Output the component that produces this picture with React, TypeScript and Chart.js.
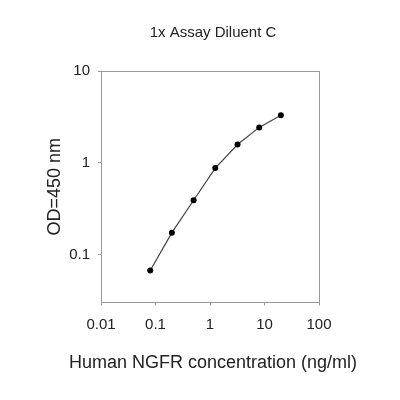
import React, { useEffect, useRef } from "react";
import { Chart, registerables } from "chart.js";

Chart.register(...registerables);

const concentrations = [0.08, 0.2, 0.5, 1.25, 3.2, 8, 20];
const odValues = [0.067, 0.173, 0.39, 0.875, 1.58, 2.43, 3.3];
const xTickValues = [0.01, 0.1, 1, 10, 100];
const yTickValues = [0.1, 1, 10];
const chartTitle = "1x Assay Diluent C";
const xTitle = "Human NGFR concentration (ng/ml)";
const yTitle = "OD=450 nm";

const FONT = "'Liberation Sans', Arial, sans-serif";
const BORDER = "#9a9a9a";
const TEXT = "#222222";

export default function App() {
  const ref = useRef<HTMLCanvasElement | null>(null);
  useEffect(() => {
    if (!ref.current) return;
    const chart = new Chart(ref.current, {
      type: "scatter",
      data: {
        datasets: [
          {
            data: concentrations.map((x, i) => ({ x, y: odValues[i] })),
            showLine: true,
            borderColor: "#444444",
            borderWidth: 1.2,
            backgroundColor: "#000000",
            pointBackgroundColor: "#000000",
            pointBorderColor: "#000000",
            pointRadius: 3,
            pointBorderWidth: 0,
          },
        ],
      },
      options: {
        animation: false,
        responsive: false,
        layout: { padding: { left: 26, right: 0, top: 0, bottom: 0 } },
        plugins: {
          legend: { display: false },
          tooltip: { enabled: false },
          title: {
            display: true,
            text: chartTitle,
            color: TEXT,
            font: { family: FONT, size: 15, weight: "normal" },
            padding: { top: 24, bottom: 29 },
          },
          subtitle: {
            display: true,
            position: "bottom",
            text: xTitle,
            color: TEXT,
            font: { family: FONT, size: 18, weight: "normal" },
            padding: { top: 9.7, bottom: 26.2 },
          },
        },
        scales: {
          x: {
            type: "logarithmic",
            position: "bottom",
            min: 0.01,
            max: 100,
            afterBuildTicks: (s: any) => {
              s.ticks = xTickValues.map((v) => ({ value: v }));
            },
            afterFit: (s: any) => {
              s.height = 40;
            },
            ticks: {
              color: TEXT,
              font: { family: FONT, size: 15 },
              padding: 10,
              maxRotation: 0,
              autoSkip: false,
              callback: (v: any) => String(v),
            },
            grid: {
              display: true,
              drawOnChartArea: false,
              drawTicks: true,
              tickLength: 3,
              color: BORDER,
            },
            border: { display: true, color: BORDER, width: 1 },
          },
          x2: {
            type: "logarithmic",
            position: "top",
            min: 0.01,
            max: 100,
            ticks: { display: false },
            grid: { display: true, drawOnChartArea: false, drawTicks: false, color: BORDER },
            border: { display: true, color: BORDER, width: 1 },
          },
          y: {
            type: "logarithmic",
            position: "left",
            min: 0.03,
            max: 10,
            afterBuildTicks: (s: any) => {
              s.ticks = yTickValues.map((v) => ({ value: v }));
            },
            afterFit: (s: any) => {
              s.width = 75;
            },
            ticks: {
              color: TEXT,
              font: { family: FONT, size: 15 },
              padding: 8,
              callback: (v: any) => String(v),
            },
            grid: {
              display: true,
              drawOnChartArea: false,
              drawTicks: true,
              tickLength: 3,
              color: BORDER,
            },
            border: { display: true, color: BORDER, width: 1 },
            title: {
              display: true,
              text: yTitle,
              color: TEXT,
              font: { family: FONT, size: 18 },
              padding: { top: 18, bottom: 0 },
            },
          },
          y2: {
            type: "logarithmic",
            position: "right",
            min: 0.03,
            max: 10,
            afterFit: (s: any) => {
              s.width = 81;
            },
            ticks: { display: false },
            grid: { display: true, drawOnChartArea: false, drawTicks: false, color: BORDER },
            border: { display: true, color: BORDER, width: 1 },
          },
        },
      },
    });
    return () => chart.destroy();
  }, []);
  return (
    <div style={{ position: "fixed", left: 0, top: 0, width: 400, height: 400, background: "#ffffff" }}>
      <canvas ref={ref} width={400} height={400} style={{ display: "block", width: 400, height: 400 }} />
    </div>
  );
}
